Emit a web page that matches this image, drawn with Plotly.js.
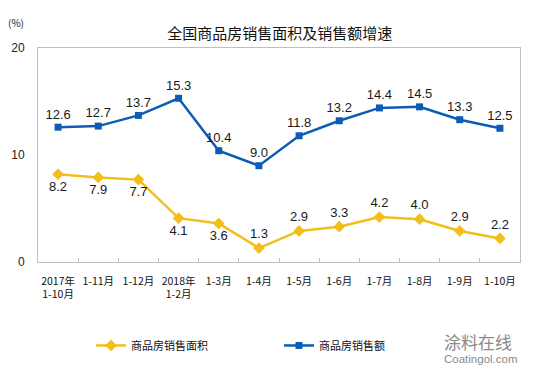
<!DOCTYPE html>
<html><head><meta charset="utf-8">
<script src="https://cdn.plot.ly/plotly-3.0.1.min.js"></script>
<style>html,body{margin:0;padding:0;background:#fff;}</style>
</head><body><div id="chart" style="width:538px;height:376px;"></div>
<script>
const categories = ["2017年<br>1-10月","1-11月","1-12月","2018年<br>1-2月","1-3月","1-4月","1-5月","1-6月","1-7月","1-8月","1-9月","1-10月"];
const areaGrowth = [8.2, 7.9, 7.7, 4.1, 3.6, 1.3, 2.9, 3.3, 4.2, 4.0, 2.9, 2.2];
const salesGrowth = [12.6, 12.7, 13.7, 15.3, 10.4, 9.0, 11.8, 13.2, 14.4, 14.5, 13.3, 12.5];
const areaLabelPos = ["bottom center","bottom center","bottom center","bottom center","bottom center","top center","top center","top center","top center","top center","top center","top center"];
const seriesNames = ["商品房销售面积","商品房销售额"];
const yTicks = [0, 10, 20];

const labelFont = {family:"Liberation Sans, Arial, sans-serif", size:13, color:"#1a1a1a"};
const cjk = "Noto Sans CJK SC, Liberation Sans, sans-serif";

const traces = [
  {x:categories, y:areaGrowth, name:seriesNames[0], type:"scatter", mode:"lines+markers+text",
   text:areaGrowth.map(v=>v.toFixed(1)), textposition:areaLabelPos, textfont:labelFont, legend:"legend",
   line:{color:"#F2BE1A", width:2.5}, marker:{symbol:"diamond", size:9, color:"#F2BE1A"}, cliponaxis:false},
  {x:categories, y:salesGrowth, name:seriesNames[1], type:"scatter", mode:"lines+markers+text",
   text:salesGrowth.map(v=>v.toFixed(1)), textposition:"top center", textfont:labelFont, legend:"legend2",
   line:{color:"#0B5CB5", width:2.5}, marker:{symbol:"square", size:7, color:"#0B5CB5"}, cliponaxis:false}
];

const legendBase = {orientation:"h", xanchor:"left", y:-0.39, yanchor:"middle",
    font:{family:cjk, size:11, color:"#111"}, itemwidth:30, bgcolor:"rgba(0,0,0,0)"};

const layout = {
  width:538, height:376,
  margin:{l:38, r:18, t:48, b:114},
  paper_bgcolor:"#fff", plot_bgcolor:"#fff",
  font:{family:cjk, color:"#1a1a1a"},
  title:{text:"全国商品房销售面积及销售额增速", font:{family:cjk, size:15, color:"#111"}, x:0.52, xanchor:"center", y:0.91, yanchor:"middle"},
  showlegend:true,
  legend:Object.assign({}, legendBase, {x:0.11}),
  legend2:Object.assign({}, legendBase, {x:0.5}),
  xaxis:{type:"category", showline:true, linecolor:"#bfbfbf", linewidth:1, mirror:true,
    ticks:"inside", tickson:"boundaries", ticklen:4, tickcolor:"#bfbfbf", tickangle:0,
    tickfont:{family:cjk, size:10.5, color:"#111"}, showgrid:false, zeroline:false, ticklabelstandoff:9,
    range:[-0.5, 11.5], fixedrange:true},
  yaxis:{range:[0,20], tickvals:yTicks, ticktext:yTicks.map(String), showline:true, linecolor:"#bfbfbf", linewidth:1, mirror:true,
    ticks:"", showgrid:false, zeroline:false, tickfont:{family:"Liberation Sans, Arial, sans-serif", size:12, color:"#222"}, ticklabelstandoff:10},
  annotations:[
    {text:"(%)", xref:"paper", yref:"paper", x:-0.045, y:1.12, xanchor:"center", yanchor:"middle", showarrow:false, font:{family:cjk, size:10, color:"#222"}},
    {text:"涂料在线", xref:"paper", yref:"paper", x:0.838, y:-0.37, xanchor:"left", yanchor:"middle", showarrow:false, font:{family:cjk, size:17, color:"#8a8a8a"}},
    {text:"Coatingol.com", xref:"paper", yref:"paper", x:0.838, y:-0.455, xanchor:"left", yanchor:"middle", showarrow:false, font:{family:"Liberation Sans, Arial, sans-serif", size:11.5, color:"#8a8a8a"}}
  ]
};
Plotly.newPlot("chart", traces, layout, {displayModeBar:false, staticPlot:true});
</script></body></html>
